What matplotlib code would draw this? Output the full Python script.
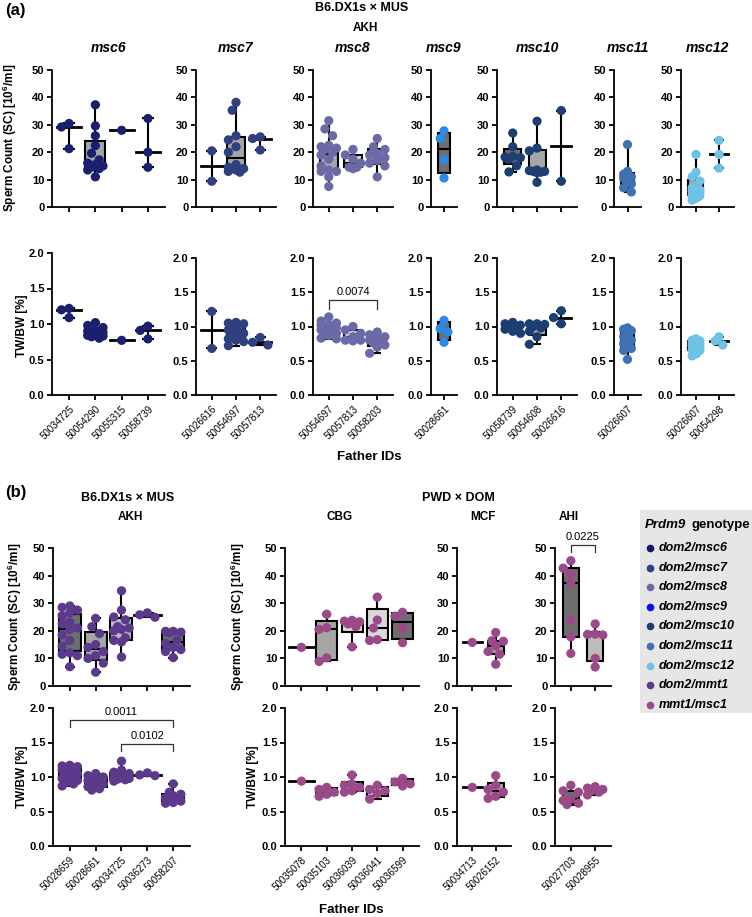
import numpy as np
import matplotlib.pyplot as plt
from matplotlib.lines import Line2D
from matplotlib.patches import Rectangle

plt.rcParams['font.family'] = ['Liberation Sans', 'DejaVu Sans']
plt.rcParams['mathtext.fontset'] = 'custom'
plt.rcParams['mathtext.rm'] = 'Liberation Sans:bold'
plt.rcParams['mathtext.bf'] = 'Liberation Sans:bold'

# ---------------- data (a): B6.DX1s x MUS, AKH ----------------
msc6_ids = ['50034725', '50054290', '50055315', '50058739']
msc6_sc = [[30.5, 29.2, 21.3],
           [37.3, 29.6, 26.0, 22.4, 19.6, 17.2, 16.0, 15.5, 15.0, 14.5, 14.0, 13.5, 11.0],
           [28.0],
           [32.3, 20.0, 14.5]]
msc6_tw = [[1.22, 1.20, 1.09],
           [1.02, 0.98, 0.95, 0.92, 0.90, 0.88, 0.87, 0.86, 0.85, 0.84, 0.83, 0.82, 0.80],
           [0.77],
           [0.97, 0.91, 0.79]]

msc7_ids = ['50026616', '50054697', '50057813']
msc7_sc = [[20.5, 9.4],
           [38.2, 35.3, 26.0, 24.5, 22.0, 20.0, 15.5, 14.5, 14.0, 13.5, 13.0, 12.7],
           [25.6, 25.0, 20.8]]
msc7_tw = [[1.22, 0.68],
           [1.06, 1.05, 1.04, 1.00, 0.97, 0.95, 0.93, 0.90, 0.88, 0.85, 0.82, 0.80, 0.78, 0.72],
           [0.84, 0.77, 0.73]]

msc8_ids = ['50054697', '50057813', '50058203']
msc8_sc = [[31.5, 28.5, 26.0, 22.5, 22.0, 21.5, 21.0, 20.0, 19.0, 17.5, 15.0, 13.5, 13.0, 13.0, 11.0, 7.5],
           [21.0, 19.0, 17.5, 16.0, 14.5, 14.0, 14.5],
           [25.0, 22.0, 21.0, 19.5, 19.0, 18.0, 17.0, 16.0, 15.0, 11.0]]
msc8_tw = [[1.14, 1.08, 1.05, 1.03, 1.02, 1.00, 1.00, 0.98, 0.97, 0.95, 0.93, 0.92, 0.90, 0.87, 0.83, 0.82],
           [1.00, 0.95, 0.90, 0.85, 0.80, 0.79, 0.80],
           [0.92, 0.88, 0.85, 0.83, 0.80, 0.78, 0.76, 0.73, 0.70, 0.61]]

msc9_ids = ['50028661']
msc9_sc = [[27.8, 25.0, 17.3, 10.6]]
msc9_tw = [[1.09, 0.97, 0.92, 0.77]]

msc10_ids = ['50058739', '50054608', '50026616']
msc10_sc = [[27.0, 22.0, 18.5, 18.2, 18.0, 17.5, 15.0, 12.8],
            [31.3, 21.5, 20.5, 13.5, 13.3, 13.0, 13.0, 12.7, 12.5, 9.0],
            [35.2, 9.4]]
msc10_tw = [[1.06, 1.04, 1.02, 1.00, 0.97, 0.96, 0.93, 0.90],
            [1.04, 1.04, 1.03, 1.00, 0.98, 0.93, 0.85, 0.74],
            [1.23, 1.13, 1.04]]

msc11_ids = ['50026607']
msc11_sc = [[22.8, 13.0, 12.0, 11.0, 10.5, 10.0, 8.5, 7.0, 5.5]]
msc11_tw = [[0.98, 0.96, 0.94, 0.90, 0.85, 0.80, 0.75, 0.68, 0.65, 0.52]]

msc12_ids = ['50026607', '50054298']
msc12_sc = [[19.2, 12.7, 11.0, 9.5, 7.0, 6.3, 6.0, 5.8, 5.5, 5.0, 4.5, 4.0, 3.2, 2.5],
            [24.3, 19.2, 14.2]]
msc12_tw = [[0.82, 0.80, 0.79, 0.78, 0.76, 0.75, 0.73, 0.72, 0.70, 0.68, 0.66, 0.65, 0.60, 0.57],
            [0.85, 0.79, 0.73]]

# ---------------- data (b) ----------------
akh_ids = ['50028659', '50028661', '50034725', '50036273', '50058207']
akh_sc = [[29.0, 28.5, 27.5, 26.5, 25.5, 23.0, 22.5, 21.0, 20.5, 18.5, 16.5, 14.5, 12.0, 11.5, 11.0, 7.0],
          [24.5, 21.5, 19.0, 15.0, 14.0, 12.5, 11.0, 10.0, 8.3, 5.0],
          [34.5, 27.5, 25.0, 24.0, 21.5, 21.0, 20.5, 20.0, 17.5, 16.5, 16.0, 10.5],
          [26.5, 25.8, 24.9],
          [19.8, 19.8, 19.5, 19.2, 16.5, 15.5, 14.0, 13.2, 12.5, 10.3]]
akh_tw = [[1.17, 1.16, 1.15, 1.14, 1.12, 1.10, 1.08, 1.05, 1.02, 1.00, 0.98, 0.97, 0.95, 0.92, 0.90, 0.87],
          [1.05, 1.02, 1.00, 0.98, 0.95, 0.90, 0.88, 0.86, 0.83, 0.81],
          [1.23, 1.10, 1.07, 1.05, 1.04, 1.03, 1.02, 1.00, 0.98, 0.97, 0.96, 0.94],
          [1.06, 1.03, 1.02],
          [0.90, 0.78, 0.75, 0.73, 0.70, 0.69, 0.67, 0.65, 0.63, 0.62]]

cbg_ids = ['50035078', '50035103', '50036039', '50036041', '50036599']
cbg_sc = [[14.0],
          [26.0, 21.1, 20.5, 10.2, 8.9],
          [23.8, 23.5, 23.3, 22.5, 21.5, 14.2],
          [32.2, 23.9, 21.0, 16.8, 16.5],
          [26.7, 25.3, 21.0, 15.7]]
cbg_tw = [[0.94],
          [0.85, 0.82, 0.78, 0.75, 0.72],
          [1.03, 0.90, 0.88, 0.85, 0.80, 0.78],
          [0.88, 0.82, 0.80, 0.76, 0.68],
          [0.98, 0.93, 0.90, 0.87]]

mcf_ids = ['50034713', '50026152']
mcf_sc = [[15.8], [19.4, 16.4, 16.2, 14.5, 12.5, 11.5, 7.9]]
mcf_tw = [[0.85], [1.02, 0.88, 0.82, 0.78, 0.72, 0.69]]

ahi_ids = ['50027703', '50028955']
ahi_sc = [[45.4, 42.7, 40.7, 37.5, 23.9, 17.8, 11.8], [22.5, 18.8, 18.7, 18.5, 10.0, 6.9]]
ahi_tw = [[0.88, 0.80, 0.78, 0.68, 0.66, 0.62, 0.60], [0.86, 0.84, 0.82, 0.80, 0.78, 0.74]]

# significance annotations: (group i, group j, bracket height, p-value)
msc8_tw_sig = [(0, 2, 1.39, '0.0074')]
akh_tw_sig = [(0, 4, 1.83, '0.0011'), (2, 4, 1.48, '0.0102')]
ahi_sc_sig = [(0, 1, 51.2, '0.0225')]

genotypes = ['dom2/msc6', 'dom2/msc7', 'dom2/msc8', 'dom2/msc9', 'dom2/msc10',
             'dom2/msc11', 'dom2/msc12', 'dom2/mmt1', 'mmt1/msc1']
geno_colors = ['#13156e', '#303f80', '#6b6aa6', '#0d0df2', '#1d3e72',
               '#3d71b3', '#6dc2e6', '#5b3a8b', '#9b4a89']

# ---------------- style ----------------
DK, MD, ML, LT = '#6e6e6e', '#a6a6a6', '#bdbdbd', '#d9d9d9'
W, H = 752, 917
fig = plt.figure(figsize=(W / 100, H / 100), dpi=100)


def px_axes(x0, x1, ytop, ybot):
    return fig.add_axes([x0 / W, 1 - ybot / H, (x1 - x0) / W, (ybot - ytop) / H])


def swarm(vals, ppx, ppy, diam=8.5, maxoff=0.4):
    vals = np.asarray(vals, float)
    step = diam * 0.45 / ppx
    nmax = max(int(maxoff / step), 0)
    cands = [0] + [s * k for k in range(1, nmax + 1) for s in (-1, 1)]
    placed, offs = [], np.zeros(len(vals))
    for idx in np.argsort(-vals):
        y = vals[idx] * ppy
        best, bestd = 0, -1.0
        for c in cands:
            x = c * step * ppx
            d = min([np.hypot(x - a, y - b) for a, b in placed], default=1e9)
            if d >= diam:
                best = c
                break
            if d > bestd:
                best, bestd = c, d
        offs[idx] = best * step
        placed.append((best * step * ppx, y))
    return offs


def panel(ax, groups, color, fills, ylim, yticks, fmt, box_px, ids=None):
    n = len(groups)
    xl = (-0.65, n - 0.35) if n > 1 else (-0.55, 0.55)
    ax.set_xlim(*xl)
    ax.set_ylim(*ylim)
    bb = ax.get_position()
    ppx = bb.width * W / (xl[1] - xl[0])
    ppy = bb.height * H / (ylim[1] - ylim[0])
    bw = box_px / ppx
    lw = 1.5
    for i, vals in enumerate(groups):
        v = np.asarray(vals, float)
        if len(v) >= 4:
            q1, med, q3 = np.percentile(v, [25, 50, 75], method='weibull')
            ax.bxp([dict(med=med, q1=q1, q3=q3, whislo=v.min(), whishi=v.max(), fliers=[])],
                   positions=[i], widths=bw, patch_artist=True, showfliers=False,
                   manage_ticks=False, capwidths=bw * 0.35,
                   boxprops=dict(facecolor=fills[i], edgecolor='black', linewidth=lw),
                   medianprops=dict(color='black', linewidth=lw),
                   whiskerprops=dict(color='black', linewidth=lw),
                   capprops=dict(color='black', linewidth=lw))
        else:
            med = np.median(v)
            ax.plot([i - bw * 0.6, i + bw * 0.6], [med, med], color='black', lw=lw + 0.5, zorder=2)
            if len(v) > 1:
                ax.plot([i, i], [v.min(), v.max()], color='black', lw=lw, zorder=2)
                for e in (v.min(), v.max()):
                    ax.plot([i - bw * 0.25, i + bw * 0.25], [e, e], color='black', lw=lw, zorder=2)
        offs = swarm(v, ppx, ppy, maxoff=min(0.5 * bw, 0.42))
        ax.scatter(i + offs, v, s=44, color=color, edgecolors='none', zorder=3, clip_on=False)
    for s in ('top', 'right'):
        ax.spines[s].set_visible(False)
    for s in ('left', 'bottom'):
        ax.spines[s].set_linewidth(1.3)
    ax.set_yticks(yticks)
    ax.set_yticklabels([fmt.format(t) for t in yticks], fontsize=8, fontweight='bold')
    ax.set_xticks(range(n))
    if ids is None:
        ax.set_xticklabels([])
    else:
        ax.set_xticklabels(ids, rotation=45, ha='right', rotation_mode='anchor', fontsize=7)
    ax.tick_params(direction='out', length=3.5, width=1.3, pad=2)
    ax.tick_params(axis='x', pad=3)
    ax.patch.set_alpha(0)


def brackets(ax, sigs, leg):
    for i, j, y, txt in sigs:
        ax.plot([i, i, j, j], [y - leg, y, y, y - leg], color='#333333', lw=0.9, clip_on=False)
        ax.annotate(txt, xy=((i + j) / 2, y), xytext=(0, 2), textcoords='offset points',
                    ha='center', va='bottom', fontsize=8, annotation_clip=False)


SC_LIM, SC_T = (0, 50), [0, 10, 20, 30, 40, 50]
TW_LIM, TW_T = (0, 2.0), [0.0, 0.5, 1.0, 1.5, 2.0]
sc_label = r'Sperm Count (SC) [10$^{6}$/ml]'

# ---------------- panel (a) ----------------
a_panels = [
    ('msc6', msc6_ids, msc6_sc, msc6_tw, '#1a1f6e', [None, MD, None, None], 52, 165, 20, 253),
    ('msc7', msc7_ids, msc7_sc, msc7_tw, '#303f80', [None, MD, None], 196, 276, 18, 258),
    ('msc8', msc8_ids, msc8_sc, msc8_tw, '#6b6aa6', [MD, LT, MD], 313, 393, 18, 258),
    ('msc9', msc9_ids, msc9_sc, msc9_tw, '#2a8be6', [DK], 431, 457, 12, 258),
    ('msc10', msc10_ids, msc10_sc, msc10_tw, '#1d3e72', [DK, MD, None], 497, 577, 17, 258),
    ('msc11', msc11_ids, msc11_sc, msc11_tw, '#3d71b3', [DK], 614, 641, 13, 258),
    ('msc12', msc12_ids, msc12_sc, msc12_tw, '#6dc2e6', [MD, None], 681, 734, 15, 258),
]
for name, ids, sc, tw, col, fills, x0, x1, bpx, ytop in a_panels:
    ax = px_axes(x0, x1, 70, 207)
    panel(ax, sc, col, fills, SC_LIM, SC_T, '{:.0f}', bpx)
    fig.text((x0 + x1) / 2 / W, 1 - 48 / H, name, ha='center', va='center',
             fontsize=10, fontweight='bold', fontstyle='italic')
    ax2 = px_axes(x0, x1, ytop, 395)
    panel(ax2, tw, col, fills, TW_LIM, TW_T, '{:.1f}', bpx, ids=ids)
    if name == 'msc8':
        brackets(ax2, msc8_tw_sig, 0.14)

fig.text(5 / W, 1 - 10 / H, '(a)', fontsize=12, fontweight='bold', va='center')
fig.text(362 / W, 1 - 8 / H, 'B6.DX1s × MUS', fontsize=9, fontweight='bold', ha='center', va='center')
fig.text(365 / W, 1 - 28 / H, 'AKH', fontsize=8.5, fontweight='bold', ha='center', va='center')
fig.text(10 / W, 1 - 138 / H, sc_label, rotation=90, fontsize=8.5, fontweight='bold', ha='center', va='center')
fig.text(22 / W, 1 - 326 / H, 'TW/BW [%]', rotation=90, fontsize=8.5, fontweight='bold', ha='center', va='center')
fig.text(369 / W, 1 - 457 / H, 'Father IDs', fontsize=9.5, fontweight='bold', ha='center', va='center')

# ---------------- panel (b) ----------------
b_panels = [
    ('AKH', akh_ids, akh_sc, akh_tw, '#5b3a8b', [DK, MD, ML, None, DK], 53, 190, 22),
    ('CBG', cbg_ids, cbg_sc, cbg_tw, '#9b4a89', [None, MD, LT, LT, DK], 285, 419, 21),
    ('MCF', mcf_ids, mcf_sc, mcf_tw, '#9b4a89', [None, MD], 457, 511, 16),
    ('AHI', ahi_ids, ahi_sc, ahi_tw, '#9b4a89', [DK, ML], 555, 611, 16),
]
for name, ids, sc, tw, col, fills, x0, x1, bpx in b_panels:
    ax = px_axes(x0, x1, 548, 686)
    panel(ax, sc, col, fills, SC_LIM, SC_T, '{:.0f}', bpx)
    ax2 = px_axes(x0, x1, 708, 846)
    panel(ax2, tw, col, fills, TW_LIM, TW_T, '{:.1f}', bpx, ids=ids)
    if name == 'AKH':
        brackets(ax2, akh_tw_sig, 0.11)
    if name == 'AHI':
        brackets(ax, ahi_sc_sig, 2.8)

fig.text(5 / W, 1 - 493 / H, '(b)', fontsize=12, fontweight='bold', va='center')
fig.text(128 / W, 1 - 498 / H, 'B6.DX1s × MUS', fontsize=9, fontweight='bold', ha='center', va='center')
fig.text(130 / W, 1 - 517 / H, 'AKH', fontsize=8.5, fontweight='bold', ha='center', va='center')
fig.text(458 / W, 1 - 498 / H, 'PWD × DOM', fontsize=9, fontweight='bold', ha='center', va='center')
for t, x in (('CBG', 340), ('MCF', 483), ('AHI', 569)):
    fig.text(x / W, 1 - 517 / H, t, fontsize=8.5, fontweight='bold', ha='center', va='center')
for x in (15, 238):
    fig.text(x / W, 1 - 617 / H, sc_label, rotation=90, fontsize=8.5, fontweight='bold', ha='center', va='center')
for x in (22, 253):
    fig.text(x / W, 1 - 777 / H, 'TW/BW [%]', rotation=90, fontsize=8.5, fontweight='bold', ha='center', va='center')
fig.text(351 / W, 1 - 910 / H, 'Father IDs', fontsize=9.5, fontweight='bold', ha='center', va='center')

# ---------------- legend ----------------
fig.add_artist(Rectangle((640 / W, 1 - 713 / H), 112 / W, 203 / H, transform=fig.transFigure,
                         facecolor='#e6e6e6', edgecolor='none', zorder=0))
fig.text(645 / W, 1 - 525 / H, 'Prdm9', fontsize=9.5, fontweight='bold', fontstyle='italic', va='center')
fig.text(691 / W, 1 - 525 / H, 'genotype', fontsize=9.5, fontweight='bold', va='center')
for k, (g, c) in enumerate(zip(genotypes, geno_colors)):
    yy = 1 - (548 + 19.6 * k) / H
    fig.add_artist(Line2D([650 / W], [yy], marker='o', markersize=5.5, color=c,
                          markeredgecolor='none', transform=fig.transFigure))
    fig.text(659 / W, yy, g, fontsize=9, fontweight='bold', fontstyle='italic', va='center')

fig.savefig('out.png', dpi=100)
